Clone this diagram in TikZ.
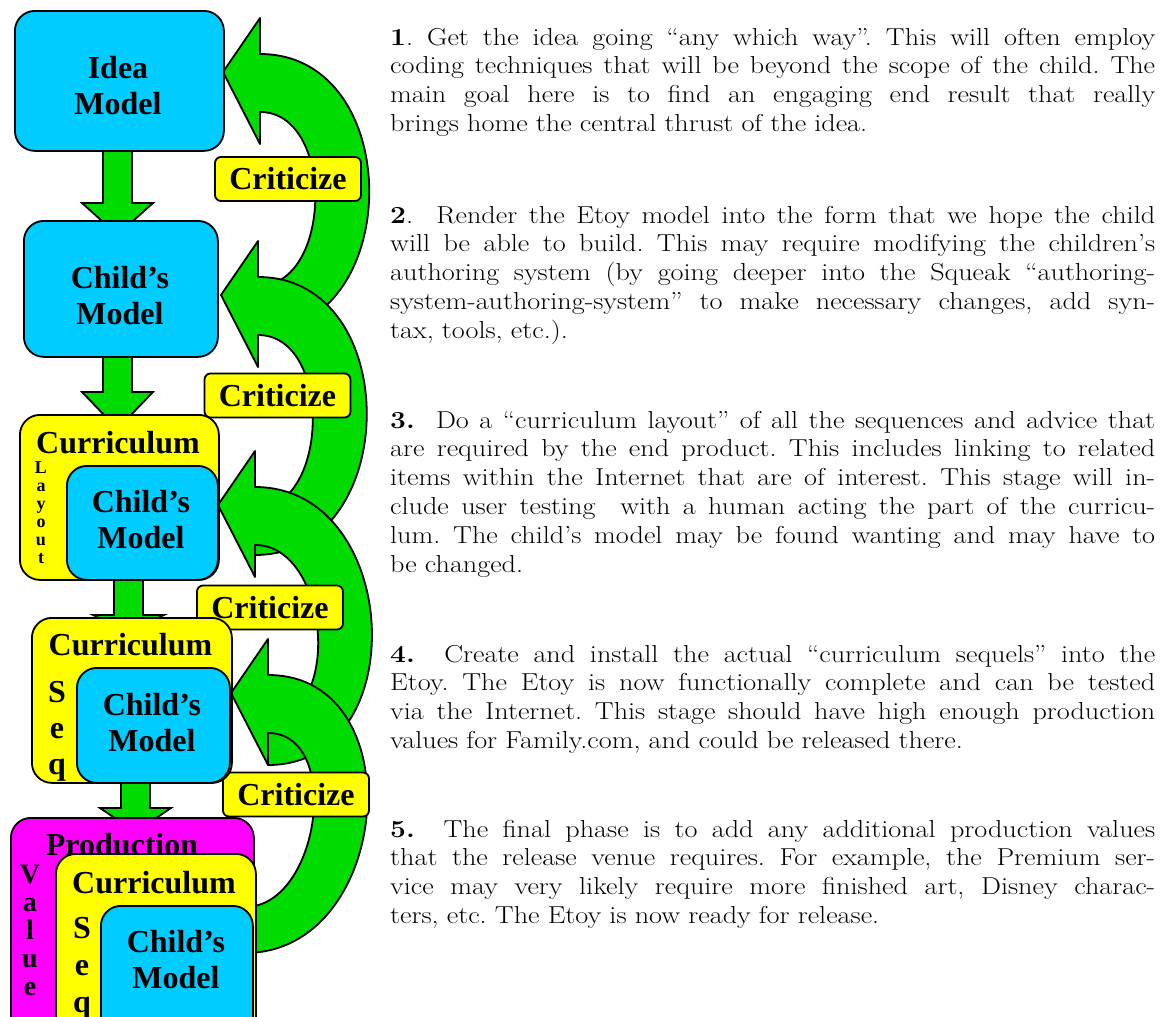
\documentclass[tikz,border=0pt]{standalone}
\usepackage{fontspec}
\usepackage{tikz}
\usetikzlibrary{backgrounds,calc}

\newfontfamily\boxfont{Liberation Serif}
\newfontfamily\notefont{Latin Modern Roman}[FakeStretch=1.15]

\definecolor{modelblue}{HTML}{00CCFF}
\definecolor{loopgreen}{HTML}{00DC00}
\definecolor{layoutyellow}{HTML}{FFFF00}
\definecolor{valuemagenta}{HTML}{FF00FF}

% green block arrow going down from one box to the next
\newcommand{\flowarrow}[4]{%
  \draw[flow] let \p1 = (#1.south), \p2 = (#2.north) in
    ({#3-14.5},{\y1+4}) -- ({#3-14.5},{-#4}) -- ({#3-35.5},{-#4})
    -- (#3,{\y2-15}) -- ({#3+35.5},{-#4}) -- ({#3+14.5},{-#4})
    -- ({#3+14.5},{\y1+4}) -- cycle;
}
% green curved arrow back up: x of head base, y of tip, x of tail end
\newcommand{\critarrow}[3]{%
  \draw[backarrow] (#1,{-(#2-54)}) -- ({#1-37},-#2) -- (#1,{-(#2+72)})
    -- (#1,{-(#2+40)})
    .. controls ({#1+75},{-(#2+40)}) and ({#3+75},{-(#2+214)}) .. (#3,{-(#2+214)})
    -- (#3,{-(#2+260)})
    .. controls ({#3+147},{-(#2+260)}) and ({#1+147},{-(#2-18)}) .. (#1,{-(#2-18)})
    -- cycle;
}
% one justified line of the notes (spaces must stretch again)
\newcommand{\jline}[1]{{\spaceskip=0pt\xspaceskip=0pt\makebox[765pt][s]{#1}}}

\begin{document}
\begin{tikzpicture}[x=1pt,y=1pt]
    % `modelbox' is the blue box, `layoutbox' and `valuebox' the ones round it.
    % `critic' is the yellow label on the green loops.
    \tikzstyle{modelbox} = [draw,fill=modelblue,rounded corners=20pt,line width=1.8pt,anchor=north west,inner sep=0pt]
    \tikzstyle{layoutbox} = [modelbox,fill=layoutyellow]
    \tikzstyle{valuebox} = [modelbox,fill=valuemagenta]
    \tikzstyle{boxtext} = [font=\boxfont\bfseries\fontsize{32}{36}\selectfont,text width=220pt,align=center,inner sep=0pt,anchor=base]
    \tikzstyle{sidetext} = [boxtext,text width=40pt]
    \tikzstyle{critic} = [draw,fill=layoutyellow,rounded corners=6pt,line width=1.8pt,minimum width=146pt,minimum height=44pt,inner sep=0pt,font=\boxfont\bfseries\fontsize{32}{36}\selectfont]
    \tikzstyle{flow} = [draw,fill=loopgreen,line width=1.8pt]
    \tikzstyle{backarrow} = [draw,fill=loopgreen,line width=1.8pt,line join=round]
    \tikzstyle{para} = [anchor=base west,text width=765pt,inner sep=0pt,align=left,font=\notefont\fontsize{24.5}{28.8}\selectfont\frenchspacing]
    %
    \useasboundingbox (0,0) rectangle (1167,-1017);
    %
    % Stage 1 and 2.
    \node[modelbox,minimum width=209pt,minimum height=140pt] (idea) at (14,-10) {};
    \node[boxtext] (idea-t) at (118,-78) {Idea\\Model};
    \node[modelbox,minimum width=194pt,minimum height=136pt] (child) at (23,-220) {};
    \node[boxtext] (child-t) at (120,-288) {Child’s\\Model};
    %
    % Stage 3.
    \node[layoutbox,minimum width=199pt,minimum height=165pt] (layout) at (19,-414) {};
    \node[boxtext] (layout-t) at (118,-453) {Curriculum};
    \node[sidetext,font=\boxfont\bfseries\fontsize{18}{18}\selectfont] (layout-s) at (41,-473) {L\\a\\y\\o\\u\\t};
    \node[modelbox,minimum width=151pt,minimum height=114pt] (layout-c) at (66,-465) {};
    \node[boxtext] (layout-ct) at (141,-512) {Child’s\\Model};
    %
    % Stage 4.
    \node[layoutbox,minimum width=200pt,minimum height=165pt] (seq) at (31,-617) {};
    \node[boxtext] (seq-t) at (130.5,-655) {Curriculum};
    \node[sidetext] (seq-s) at (57,-702) {S\\e\\q};
    \node[modelbox,minimum width=153pt,minimum height=115pt] (seq-c) at (76,-667) {};
    \node[boxtext] (seq-ct) at (152,-715) {Child’s\\Model};
    %
    % Stage 5.
    \node[valuebox,minimum width=243pt,minimum height=230pt] (value) at (10,-817) {};
    \node[boxtext] (value-t) at (122,-855) {Production};
    \node[sidetext,font=\boxfont\bfseries\fontsize{28}{28}\selectfont] (value-s) at (30,-883) {V\\a\\l\\u\\e};
    \node[layoutbox,minimum width=200pt,minimum height=200pt] (value-l) at (55,-853) {};
    \node[boxtext] (value-lt) at (154,-893) {Curriculum};
    \node[sidetext,font=\boxfont\bfseries\fontsize{32}{37}\selectfont] (value-ls) at (82,-938) {S\\e\\q};
    \node[modelbox,minimum width=152pt,minimum height=150pt] (value-c) at (100,-905) {};
    \node[boxtext] (value-ct) at (176,-952) {Child’s\\Model};
    %
    \begin{pgfonlayer}{background}
        % Loops back up, each one over the one before.
        \critarrow{260}{72}{258}
        \critarrow{258}{295}{255}
        \critarrow{255}{505}{268}
        \critarrow{268}{693}{245}
        \node[critic] (crit1) at (288,-179) {Criticize};
        \node[critic] (crit2) at (277.5,-395.5) {Criticize};
        \node[critic] (crit3) at (270,-607.5) {Criticize};
        \node[critic] (crit4) at (296,-794.5) {Criticize};
        % Arrows down.
        \flowarrow{idea}{child}{117.5}{203}
        \flowarrow{child}{layout}{117.5}{392}
        \flowarrow{layout}{seq}{128.5}{615}
        \flowarrow{seq}{value}{135.5}{808}
    \end{pgfonlayer}
    %
    % Notes on the stages.
    \node[para] (note1) at (390,-45) {%
      \jline{\textbf{1}. Get the idea going “any which way”. This will often employ}\\
      \jline{coding techniques that will be beyond the scope of the child. The}\\
      \jline{main goal here is to find an engaging end result that really}\\
      brings home the central thrust of the idea.};
    \node[para] (note2) at (390,-223) {%
      \jline{\textbf{2}.\ \ Render the Etoy model into the form that we hope the child}\\
      \jline{will be able to build. This may require modifying the children’s}\\
      \jline{authoring system (by going deeper into the Squeak “authoring-}\\
      \jline{system-authoring-system” to make necessary changes, add syn-}\\
      tax, tools, etc.).};
    \node[para] (note3) at (390,-428) {%
      \jline{\textbf{3.}\ \ Do a “curriculum layout” of all the sequences and advice that}\\
      \jline{are required by the end product. This includes linking to related}\\
      \jline{items within the Internet that are of interest. This stage will in-}\\
      \jline{clude user testing\ \ with a human acting the part of the curricu-}\\
      \jline{lum. The child’s model may be found wanting and may have to}\\
      be changed.};
    \node[para] (note4) at (390,-662) {%
      \jline{\textbf{4.}\ \ Create and install the actual “curriculum sequels” into the}\\
      \jline{Etoy. The Etoy is now functionally complete and can be tested}\\
      \jline{via the Internet. This stage should have high enough production}\\
      values for Family.com, and could be released there.};
    \node[para] (note5) at (390,-837) {%
      \jline{\textbf{5.}\ \ The final phase is to add any additional production values}\\
      \jline{that the release venue requires. For example, the Premium ser-}\\
      \jline{vice may very likely require more finished art, Disney charac-}\\
      ters, etc. The Etoy is now ready for release.};
\end{tikzpicture}
\end{document}
